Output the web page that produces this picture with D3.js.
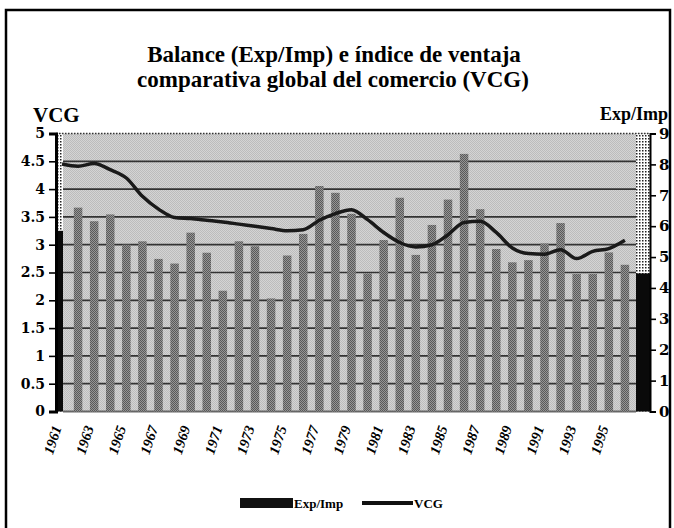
<!DOCTYPE html>
<html>
<head>
<meta charset="utf-8">
<script src="https://cdn.jsdelivr.net/npm/d3@7"></script>
<style>
  body { margin: 0; background: #fff; }
  svg { display: block; }
  .tick text { font-family: "DejaVu Serif", serif; font-weight: bold; }
</style>
</head>
<body>
<svg id="chart" width="674" height="528"></svg>
<script>
// years on the x axis, labels every two years
const years = d3.range(1961, 1998);
const yearLabels = d3.range(1961, 1997, 2);

// Exp/Imp bars (right axis), 1961..1997
const expImp = [5.85, 6.6, 6.16, 6.38, 5.4, 5.51, 4.94, 4.79, 5.79, 5.14,
  3.91, 5.51, 5.35, 3.66, 5.05, 5.75, 7.3, 7.08, 6.4, 4.47,
  5.55, 6.92, 5.07, 6.04, 6.86, 8.34, 6.55, 5.26, 4.83, 4.9,
  5.44, 6.1, 4.45, 4.45, 5.15, 4.75, 4.47];

// VCG line (left axis), 1961..1996
const vcg = [4.45, 4.41, 4.46, 4.35, 4.2, 3.87, 3.64, 3.49, 3.47, 3.44,
  3.41, 3.37, 3.33, 3.29, 3.25, 3.27, 3.44, 3.56, 3.63, 3.45,
  3.22, 3.04, 2.96, 3.0, 3.18, 3.4, 3.42, 3.22, 2.94, 2.84,
  2.83, 2.91, 2.75, 2.88, 2.93, 3.08];

const leftTicks = d3.range(0, 5.01, 0.5);
const rightTicks = d3.range(0, 10);

const svg = d3.select("#chart");
const plotTop = 133.5, plotBottom = 411.5;
const axisL = 56, axisR = 650, innerL = 63, innerR = 636;
const serif = "'Liberation Serif', 'Times New Roman', serif";

const x = d3.scalePoint().domain(years).range([62, 641]);
const yL = d3.scaleLinear().domain([0, 5]).range([plotBottom, plotTop]);
const yR = d3.scaleLinear().domain([0, 9]).range([plotBottom, plotTop]);

// patterns to mimic the printed dither
const defs = svg.append("defs");
function checker(id, a, b) {
  const p = defs.append("pattern").attr("id", id)
    .attr("width", 2).attr("height", 2).attr("patternUnits", "userSpaceOnUse");
  p.append("rect").attr("width", 2).attr("height", 2).attr("fill", a);
  p.append("rect").attr("width", 1).attr("height", 1).attr("fill", b);
  p.append("rect").attr("x", 1).attr("y", 1).attr("width", 1).attr("height", 1).attr("fill", b);
}
checker("bg", "#d4d4d4", "#bcbcbc");
checker("barfill", "#969696", "#595959");
const dots = defs.append("pattern").attr("id", "dots")
  .attr("width", 3).attr("height", 3).attr("patternUnits", "userSpaceOnUse");
dots.append("rect").attr("width", 3).attr("height", 3).attr("fill", "#fff");
dots.append("rect").attr("width", 1.5).attr("height", 1.5).attr("fill", "#222");

// outer frame
svg.append("rect").attr("x", 6).attr("y", 10).attr("width", 664).attr("height", 540)
  .attr("fill", "none").attr("stroke", "#000").attr("stroke-width", 2.5);

// title
const title = svg.append("text").attr("text-anchor", "middle")
  .style("font-family", serif).attr("font-weight", "bold")
  .attr("font-size", 23).attr("fill", "#000");
title.append("tspan").attr("x", 334).attr("y", 62).text("Balance (Exp/Imp) e índice de ventaja");
title.append("tspan").attr("x", 333).attr("y", 87).text("comparativa global del comercio (VCG)");

// plot background and edge strips
svg.append("rect").attr("x", innerL).attr("y", plotTop).attr("width", innerR - innerL)
  .attr("height", plotBottom - plotTop).attr("fill", "url(#bg)");
svg.append("rect").attr("x", axisL).attr("y", plotTop).attr("width", innerL - axisL)
  .attr("height", plotBottom - plotTop).attr("fill", "url(#dots)");
svg.append("rect").attr("x", innerR).attr("y", plotTop).attr("width", axisR - innerR)
  .attr("height", plotBottom - plotTop).attr("fill", "url(#dots)");

// gridlines
svg.append("g").selectAll("line").data(leftTicks.filter(d => d > 0 && d < 5)).join("line")
  .attr("x1", innerL).attr("x2", innerR)
  .attr("y1", d => yL(d)).attr("y2", d => yL(d))
  .attr("stroke", "#333").attr("stroke-width", 1.7);

// top dotted border and bottom edge
svg.append("line").attr("x1", axisL).attr("x2", axisR).attr("y1", plotTop).attr("y2", plotTop)
  .attr("stroke", "#333").attr("stroke-width", 1.5).attr("stroke-dasharray", "1.5,1.5");
svg.append("line").attr("x1", innerL).attr("x2", innerR).attr("y1", plotBottom).attr("y2", plotBottom)
  .attr("stroke", "#666").attr("stroke-width", 2);

// bars
const bw = 8.5;
const last = years[years.length - 1];
svg.append("g").selectAll("rect").data(years).join("rect")
  .attr("x", d => d === years[0] ? axisL : d === last ? innerR : x(d) - bw / 2)
  .attr("width", d => d === years[0] ? innerL - axisL : d === last ? axisR - innerR : bw)
  .attr("y", (d, i) => yR(expImp[i]))
  .attr("height", (d, i) => plotBottom - yR(expImp[i]))
  .attr("fill", d => (d === years[0] || d === last) ? "#0a0a0a" : "url(#barfill)");

// VCG line
const line = d3.line()
  .x((d, i) => x(years[i]))
  .y(d => yL(d))
  .curve(d3.curveMonotoneX);
svg.append("path").attr("d", line(vcg))
  .attr("fill", "none").attr("stroke", "#1a1a1a").attr("stroke-width", 3.5)
  .attr("stroke-linejoin", "round");

// left axis
const gL = svg.append("g").attr("transform", `translate(${axisL},0)`)
  .call(d3.axisLeft(yL).tickValues(leftTicks).tickSize(7).tickPadding(4).tickFormat(d => String(d)));
gL.select(".domain").attr("stroke-width", 3);
gL.selectAll(".tick line").attr("stroke-width", 1.6);
gL.selectAll(".tick text").attr("font-size", 14);

// right axis
const gR = svg.append("g").attr("transform", `translate(${axisR},0)`)
  .call(d3.axisRight(yR).tickValues(rightTicks).tickSize(6).tickPadding(3));
gR.select(".domain").attr("stroke-width", 2);
gR.selectAll(".tick line").attr("stroke-width", 1.6);
gR.selectAll(".tick text").attr("font-size", 15);

// x labels, rotated
svg.append("g").selectAll("text").data(yearLabels).join("text")
  .attr("transform", d => `translate(${x(d) - 5},426) rotate(-72)`)
  .attr("text-anchor", "end").attr("dy", "0.35em")
  .style("font-family", serif).attr("font-weight", "bold")
  .attr("font-style", "italic").attr("font-size", 14.5)
  .text(d => d);

// axis titles
svg.append("text").attr("x", 33).attr("y", 122)
  .style("font-family", serif).attr("font-weight", "bold")
  .attr("font-size", 21).text("VCG");
svg.append("text").attr("x", 668).attr("y", 120).attr("text-anchor", "end")
  .style("font-family", serif).attr("font-weight", "bold")
  .attr("font-size", 18).text("Exp/Imp");

// legend
const lg = svg.append("g").style("font-family", serif)
  .attr("font-weight", "bold").attr("font-size", 13);
lg.append("rect").attr("x", 240).attr("y", 498).attr("width", 53).attr("height", 10)
  .attr("fill", "#111");
lg.append("text").attr("x", 294).attr("y", 508).text("Exp/Imp");
lg.append("line").attr("x1", 362).attr("x2", 413).attr("y1", 503).attr("y2", 503)
  .attr("stroke", "#111").attr("stroke-width", 4);
lg.append("text").attr("x", 414).attr("y", 508).text("VCG");
</script>
</body>
</html>
